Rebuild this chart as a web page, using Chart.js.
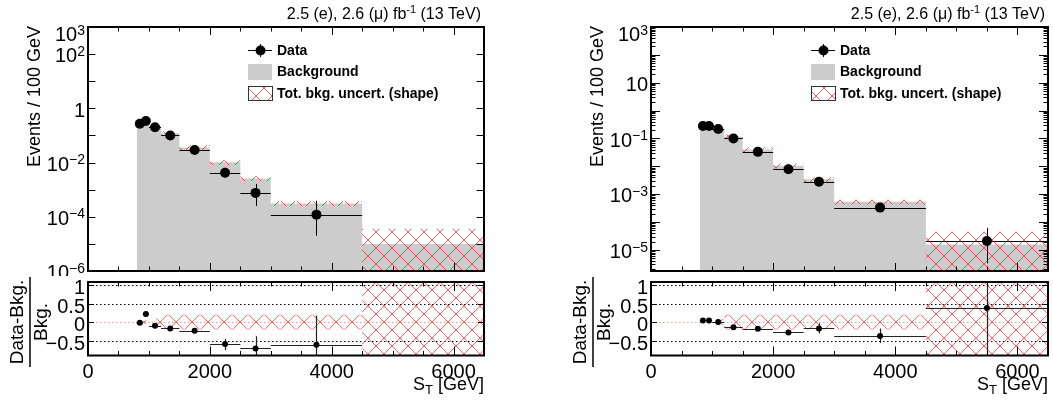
<!DOCTYPE html>
<html lang="en">
<head>
<meta charset="UTF-8"/>
<title>S_T distributions</title>
<script src="https://cdn.jsdelivr.net/npm/chart.js"></script>
<style>
  body { margin: 0; background: #fff; }
  #page { position: relative; width: 1053px; height: 403px; overflow: hidden; background: #fff; }
  canvas { position: absolute; }
</style>
</head>
<body>
<div id="page">
  <canvas id="topL" width="500" height="276" style="left:0;top:0"></canvas>
  <canvas id="ratioL" width="500" height="127" style="left:0;top:276px"></canvas>
  <canvas id="topR" width="493" height="276" style="left:560px;top:0"></canvas>
  <canvas id="ratioR" width="493" height="127" style="left:560px;top:276px"></canvas>
</div>
<script>
const FONT = '"Liberation Sans", Arial, Helvetica, sans-serif';

// S_T binning (GeV)
const binEdges   = [800, 900, 1000, 1200, 1500, 2000, 2500, 3000, 4500, 6500];
const binCenters = [850, 950, 1100, 1350, 1750, 2250, 2750, 3750, 5500];

const xTickLabels     = [0, 2000, 4000, 6000];
const ratioTickLabels = [1, 0.5, 0, -0.5];
const ratioGridLines  = [1, 0.5, -0.5];
const legendLabels    = ['Data', 'Background', 'Tot. bkg. uncert. (shape)'];

// left panel
const bkgLeft     = [0.28, 0.28, 0.22, 0.12, 0.036, 0.0102, 0.0026, 3.1e-4, 1.0e-5];
const uncLeft     = [0.02, 0.05, 0.10, 0.20, 0.20, 0.20, 0.20, 0.20, 2.6];
const dataLeft    = [0.27, 0.34, 0.20, 0.10, 0.029, 0.0042, 7.6e-4, 1.2e-4];
const errUpLeft   = [0.02, 0.025, 0.015, 0.008, 0.004, 0.0022, 8.7e-4, 2.7e-4];
const errDnLeft   = [0.02, 0.025, 0.015, 0.008, 0.004, 0.00145, 5.1e-4, 1.0e-4];
const ratioLeft   = [-0.02, 0.22, -0.10, -0.17, -0.23, -0.59, -0.71, -0.61];
const ratioUpLeft = [0.03, 0.06, 0.04, 0.04, 0.06, 0.14, 0.33, 0.79];
const ratioDnLeft = [0.03, 0.06, 0.04, 0.04, 0.06, 0.17, 0.33, 0.39];
const yLabelsLeft = [1e3, 1e2, 1, 1e-2, 1e-4, 1e-6];

// right panel
const bkgRight     = [0.27, 0.27, 0.22, 0.116, 0.040, 0.0105, 0.0034, 5.3e-4, 1.55e-5];
const uncRight     = [0.02, 0.04, 0.08, 0.20, 0.20, 0.20, 0.20, 0.20, 1.9];
const dataRight    = [0.28, 0.28, 0.22, 0.10, 0.033, 0.0079, 0.0028, 3.3e-4, 2.1e-5];
const errUpRight   = [0.02, 0.02, 0.015, 0.008, 0.004, 0.0012, 7e-4, 1.2e-4, 4.1e-5];
const errDnRight   = [0.02, 0.02, 0.015, 0.008, 0.004, 0.0011, 5.5e-4, 1.0e-4, 1.77e-5];
const ratioRight   = [0.045, 0.045, 0.0, -0.14, -0.18, -0.28, -0.17, -0.375, 0.38];
const ratioUpRight = [0.02, 0.02, 0.02, 0.03, 0.04, 0.07, 0.14, 0.20, 2];
const ratioDnRight = [0.02, 0.02, 0.02, 0.03, 0.04, 0.07, 0.14, 0.19, 2];
const yLabelsRight = [1e3, 10, 1e-1, 1e-3, 1e-5];

const HATCH = 16;

function makeHatch(ctx) {
  const tile = document.createElement('canvas');
  tile.width = HATCH; tile.height = HATCH;
  const g = tile.getContext('2d');
  g.strokeStyle = 'rgba(255, 40, 40, 0.75)';
  g.lineWidth = 1;
  g.beginPath();
  g.moveTo(-1, -1); g.lineTo(HATCH + 1, HATCH + 1);
  g.moveTo(HATCH + 1, -1); g.lineTo(-1, HATCH + 1);
  g.stroke();
  return ctx.createPattern(tile, 'repeat');
}

// histogram as stepped line: value i holds from edge i to edge i+1
function steps(vals) {
  const pts = vals.map((y, i) => ({x: binEdges[i], y}));
  pts.push({x: binEdges[binEdges.length - 1], y: vals[vals.length - 1]});
  return pts;
}

function crisp(v) { return Math.round(v) + 0.5; }

function drawErrors(chart, index, color, width) {
  const ds = chart.data.datasets[index];
  if (!ds.errUp) return;
  const {ctx, chartArea: a, scales: {x, y}} = chart;
  const isLog = y.type === 'logarithmic';
  ctx.save();
  ctx.beginPath(); ctx.rect(a.left, a.top, a.width, a.height); ctx.clip();
  ctx.strokeStyle = color; ctx.lineWidth = width;
  ds.data.forEach((p, i) => {
    const px = crisp(x.getPixelForValue(p.x));
    const py = crisp(y.getPixelForValue(p.y));
    const lo = p.y - ds.errDn[i];
    const yHi = y.getPixelForValue(p.y + ds.errUp[i]);
    const yLo = (!isLog || lo > 0) ? y.getPixelForValue(lo) : a.bottom + 20;
    ctx.beginPath();
    ctx.moveTo(x.getPixelForValue(binEdges[i]), py);
    ctx.lineTo(x.getPixelForValue(binEdges[i + 1]), py);
    ctx.moveTo(px, yHi); ctx.lineTo(px, yLo);
    ctx.stroke();
  });
  ctx.restore();
}

function line(ctx, x0, y0, x1, y1) {
  ctx.beginPath(); ctx.moveTo(x0, y0); ctx.lineTo(x1, y1); ctx.stroke();
}

function xTicks(ctx, a, x, minorLen, majorLen) {
  for (let v = 0; v <= x.max; v += 500) {
    const px = crisp(x.getPixelForValue(v));
    const len = v % 2000 === 0 ? majorLen : minorLen;
    line(ctx, px, a.bottom, px, a.bottom - len);
    line(ctx, px, a.top, px, a.top + len);
  }
}

function yTick(ctx, a, py, len) {
  py = crisp(py);
  line(ctx, a.left, py, a.left + len, py);
  line(ctx, a.right, py, a.right - len, py);
}

// "10" with a raised exponent, right aligned at xr; yc is the centre of the digits
function powLabel(ctx, xr, yc, v) {
  const e = Math.round(Math.log10(v));
  ctx.textAlign = 'right';
  ctx.textBaseline = 'alphabetic';
  ctx.font = `20px ${FONT}`;
  if (e === 0 || e === 1) { ctx.fillText(e === 0 ? '1' : '10', xr, yc + 7.2); return; }
  const exp = (e < 0 ? '\u2212' : '') + Math.abs(e);
  ctx.font = `14px ${FONT}`;
  const we = ctx.measureText(exp).width;
  ctx.fillText(exp, xr, yc + 0.7);
  ctx.font = `20px ${FONT}`;
  ctx.fillText('10', xr - we, yc + 7.2);
}

function drawHeader(ctx, right) {
  const parts = [['2.5 (e), 2.6 (\u03bc) fb', 16, 19], ['-1', 11, 13], [' (13 TeV)', 16, 19]];
  let total = 0;
  parts.forEach(p => { ctx.font = `${p[1]}px ${FONT}`; total += ctx.measureText(p[0]).width; });
  let xx = right - total;
  ctx.textAlign = 'left'; ctx.textBaseline = 'alphabetic';
  parts.forEach(p => {
    ctx.font = `${p[1]}px ${FONT}`;
    ctx.fillText(p[0], xx, p[2]);
    xx += ctx.measureText(p[0]).width;
  });
}

function drawLegend(ctx, left, hatch) {
  const bx = left + 160, bw = 24, mx = left + 172, tx = left + 189;
  ctx.strokeStyle = '#000'; ctx.lineWidth = 1;
  line(ctx, bx, 50.5, bx + bw, 50.5);
  line(ctx, mx + 0.5, 44, mx + 0.5, 57);
  ctx.beginPath(); ctx.arc(mx + 0.5, 50.5, 5, 0, Math.PI * 2); ctx.fill();
  ctx.fillStyle = '#cccccc';
  ctx.fillRect(bx, 64, bw, 16);
  ctx.fillStyle = hatch;
  ctx.fillRect(bx, 86, bw, 15);
  ctx.strokeStyle = '#333';
  ctx.strokeRect(bx + 0.5, 86.5, bw, 14);
  ctx.fillStyle = '#000';
  ctx.font = `bold 14px ${FONT}`;
  ctx.textAlign = 'left'; ctx.textBaseline = 'middle';
  ctx.fillText(legendLabels[0], tx, 51);
  ctx.fillText(legendLabels[1], tx, 72.5);
  ctx.fillText(legendLabels[2], tx, 94);
}

function bandDatasets(lo, hi, hatch) {
  return [
    {label: 'bandLo', data: steps(lo), stepped: true, borderWidth: 0, borderColor: 'transparent',
     pointRadius: 0, fill: false, order: 1},
    {label: 'bandHi', data: steps(hi), stepped: true, borderWidth: 0, borderColor: 'transparent',
     pointRadius: 0, fill: '-1', backgroundColor: hatch, order: 1}
  ];
}

function buildTop(id, p) {
  const ctx = document.getElementById(id).getContext('2d');
  const hatch = makeHatch(ctx);
  const hi = p.bkg.map((b, i) => b * (1 + p.unc[i]));
  const lo = p.bkg.map((b, i) => Math.max(b * (1 - p.unc[i]), 1e-12));
  const decor = {
    id: 'decor',
    beforeDatasetDraw(chart, args) { drawErrors(chart, args.index, '#000', 1); },
    afterDraw(chart) {
      const {ctx, chartArea: a, scales: {x, y}} = chart;
      ctx.save();
      ctx.strokeStyle = '#000'; ctx.fillStyle = '#000'; ctx.lineWidth = 1;
      xTicks(ctx, a, x, 4.5, 8);
      const eLo = Math.floor(Math.log10(y.min)), eHi = Math.round(Math.log10(y.max));
      for (let e = eLo; e <= eHi; e++) {
        const d = Math.pow(10, e);
        if (d >= y.min * 0.999) yTick(ctx, a, y.getPixelForValue(d), p.decadeLen);
        if (p.logMinor) {
          for (let m = 2; m <= 9; m++) {
            const v = m * d;
            if (v > y.min && v < y.max) yTick(ctx, a, y.getPixelForValue(v), 4.5);
          }
        }
      }
      ctx.lineWidth = 2;
      ctx.strokeRect(a.left, a.top, a.width, a.height);
      p.yLabels.forEach(v => powLabel(ctx, a.left - 3, Math.max(y.getPixelForValue(v) + 1, 34), v));
      // axis title
      ctx.save();
      ctx.translate(a.left - 48.5, 96.5);
      ctx.rotate(-Math.PI / 2);
      ctx.font = `18px ${FONT}`; ctx.textAlign = 'center'; ctx.textBaseline = 'alphabetic';
      ctx.fillText('Events / 100 GeV', 0, 0);
      ctx.restore();
      drawHeader(ctx, a.right - 3);
      drawLegend(ctx, a.left, hatch);
      ctx.restore();
    }
  };
  return new Chart(ctx, {
    type: 'line',
    data: {
      datasets: [
        {label: 'Data', type: 'scatter', order: 0,
         data: p.data.map((y, i) => ({x: binCenters[i], y})),
         errUp: p.errUp, errDn: p.errDn,
         pointRadius: 5, pointBackgroundColor: '#000', pointBorderColor: '#000', pointBorderWidth: 0},
        ...bandDatasets(lo, hi, hatch),
        {label: 'Background', data: steps(p.bkg), stepped: true, order: 2,
         borderWidth: 0, borderColor: 'transparent', pointRadius: 0,
         fill: 'start', backgroundColor: '#cccccc'}
      ]
    },
    options: {
      responsive: false, animation: false,
      layout: {padding: {left: p.padLeft, right: p.padRight, top: 27, bottom: 3}},
      scales: {
        x: {type: 'linear', min: 0, max: 6500, display: false},
        y: {type: 'logarithmic', min: p.yMin, max: 1000, display: false}
      },
      plugins: {legend: {display: false}, tooltip: {enabled: false}}
    },
    plugins: [decor]
  });
}

function buildRatio(id, p) {
  const ctx = document.getElementById(id).getContext('2d');
  const hatch = makeHatch(ctx);
  const hi = p.unc.map(u => u);
  const lo = p.unc.map(u => -u);
  const decor = {
    id: 'decor',
    beforeDatasetsDraw(chart) {
      const {ctx, chartArea: a, scales: {y}} = chart;
      const y0 = y.getPixelForValue(0);
      hatch.setTransform(new DOMMatrix().translate(0, y0));
      ctx.save();
      ctx.lineWidth = 1;
      ctx.setLineDash([1.5, 2.5]);
      ctx.strokeStyle = '#000';
      ratioGridLines.forEach(v => {
        const py = crisp(y.getPixelForValue(v));
        line(ctx, a.left, py, a.right, py);
      });
      ctx.strokeStyle = '#e99';
      line(ctx, a.left, crisp(y0), a.right, crisp(y0));
      ctx.restore();
    },
    beforeDatasetDraw(chart, args) { drawErrors(chart, args.index, '#222', 1.2); },
    afterDraw(chart) {
      const {ctx, chartArea: a, scales: {x, y}} = chart;
      ctx.save();
      ctx.strokeStyle = '#000'; ctx.fillStyle = '#000'; ctx.lineWidth = 1;
      xTicks(ctx, a, x, 4.5, 9);
      ratioTickLabels.forEach(v => yTick(ctx, a, y.getPixelForValue(v), 6));
      ctx.lineWidth = 2;
      ctx.strokeRect(a.left, a.top, a.width, a.height);
      ctx.font = `20px ${FONT}`;
      ctx.textAlign = 'right'; ctx.textBaseline = 'alphabetic';
      ratioTickLabels.forEach(v => {
        const t = v < 0 ? '\u2212' + Math.abs(v) : String(v);
        ctx.fillText(t, a.left - 3, y.getPixelForValue(v) + 2 + 7.2);
      });
      ctx.textAlign = 'center';
      xTickLabels.forEach(v => ctx.fillText(String(v), x.getPixelForValue(v), 102));
      // S_T [GeV]
      ctx.font = `18px ${FONT}`;
      const w2 = ctx.measureText(' [GeV]').width, w0 = ctx.measureText('S').width;
      ctx.font = `13px ${FONT}`;
      const w1 = ctx.measureText('T').width;
      let xx = a.right - (w0 + w1 + w2);
      ctx.textAlign = 'left';
      ctx.font = `18px ${FONT}`; ctx.fillText('S', xx, 114);
      ctx.font = `13px ${FONT}`; ctx.fillText('T', xx + w0, 118);
      ctx.font = `18px ${FONT}`; ctx.fillText(' [GeV]', xx + w0 + w1, 114);
      // fraction title
      ctx.save();
      ctx.font = `19px ${FONT}`; ctx.textAlign = 'center';
      ctx.translate(a.left - 65.5, 46); ctx.rotate(-Math.PI / 2);
      ctx.fillText('Data-Bkg.', 0, 0);
      ctx.restore();
      ctx.save();
      ctx.font = `19px ${FONT}`; ctx.textAlign = 'center';
      ctx.translate(a.left - 41.5, 46); ctx.rotate(-Math.PI / 2);
      ctx.fillText('Bkg.', 0, 0);
      ctx.restore();
      ctx.lineWidth = 1.5;
      line(ctx, a.left - 58, 1, a.left - 58, 91);
      ctx.restore();
    }
  };
  return new Chart(ctx, {
    type: 'line',
    data: {
      datasets: [
        {label: 'Ratio', type: 'scatter', order: 0,
         data: p.ratio.map((y, i) => ({x: binCenters[i], y})),
         errUp: p.errUp, errDn: p.errDn,
         pointRadius: 3, pointBackgroundColor: '#000', pointBorderColor: '#000', pointBorderWidth: 0},
        ...bandDatasets(lo, hi, hatch)
      ]
    },
    options: {
      responsive: false, animation: false,
      layout: {padding: {left: p.padLeft, right: p.padRight, top: 6, bottom: 47.5}},
      scales: {
        x: {type: 'linear', min: 0, max: 6500, display: false},
        y: {type: 'linear', min: -0.9, max: 1.08, display: false}
      },
      plugins: {legend: {display: false}, tooltip: {enabled: false}}
    },
    plugins: [decor]
  });
}

buildTop('topL', {bkg: bkgLeft, unc: uncLeft, data: dataLeft, errUp: errUpLeft, errDn: errDnLeft,
  yMin: 1e-6, yLabels: yLabelsLeft, decadeLen: 7.5, logMinor: false, padLeft: 88, padRight: 16});
buildRatio('ratioL', {unc: uncLeft, ratio: ratioLeft, errUp: ratioUpLeft, errDn: ratioDnLeft,
  padLeft: 88, padRight: 16});
buildTop('topR', {bkg: bkgRight, unc: uncRight, data: dataRight, errUp: errUpRight, errDn: errDnRight,
  yMin: 1.75e-6, yLabels: yLabelsRight, decadeLen: 9, logMinor: true, padLeft: 91, padRight: 5});
buildRatio('ratioR', {unc: uncRight, ratio: ratioRight, errUp: ratioUpRight, errDn: ratioDnRight,
  padLeft: 91, padRight: 5});
</script>
</body>
</html>
